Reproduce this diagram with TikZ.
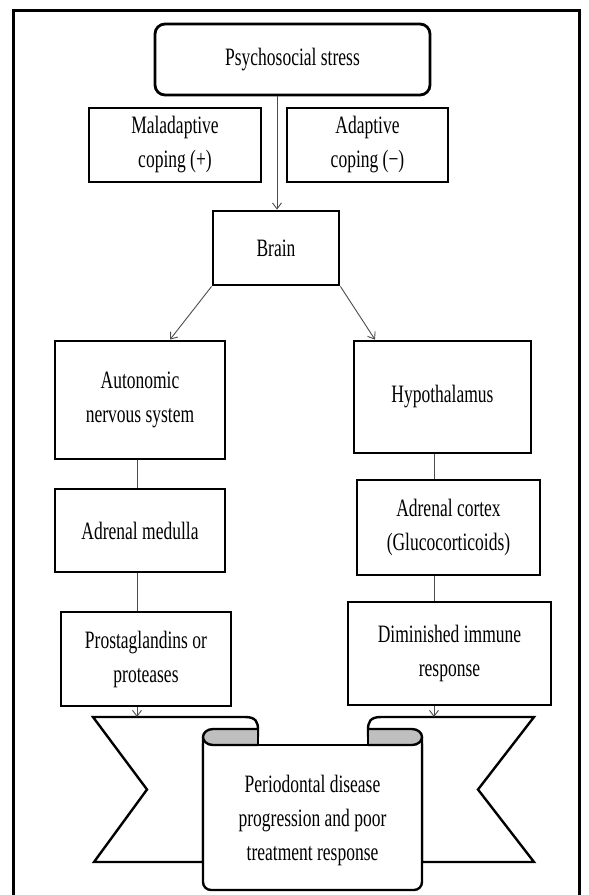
\documentclass[tikz,border=0pt]{standalone}
\usepackage{fontspec}
\setmainfont[FakeStretch=0.7]{Liberation Serif}
\usetikzlibrary{arrows.meta}
\begin{document}
\begin{tikzpicture}[x=1pt,y=-1pt,
  font=\fontsize{25}{34}\selectfont,
  box/.style={draw=black, line width=2.8pt, fill=white, inner sep=0pt, align=center},
  link/.style={draw=black!70, line width=0.9pt},
  arr/.style={link, -{Straight Barb[length=6pt,width=9pt,line width=0.9pt]}},
  ribbonline/.style={draw=black, line width=2.4pt, line join=miter},
  rollfill/.style={fill=black!25, draw=black, line width=2.4pt}]
\useasboundingbox (0,0) rectangle (589,895);
\draw[line width=3pt] (13,10) rectangle (579,905);

% top part
\node[box, rounded corners=10pt, minimum width=275pt, minimum height=71pt] (psy) at (292.5,59.5) {Psychosocial stress};
\node[box, minimum width=172pt, minimum height=74pt] (mal) at (175,145) {Maladaptive\\coping (+)};
\node[box, minimum width=161pt, minimum height=74pt] (ada) at (367.5,145) {Adaptive\\coping (−)};
\node[box, minimum width=126pt, minimum height=74pt] (brain) at (276,248) {Brain};

% left column
\node[box, minimum width=170pt, minimum height=118pt] (ans) at (140,400) {Autonomic\\nervous system};
\node[box, minimum width=170pt, minimum height=83pt] (am) at (140,530.5) {Adrenal medulla};
\node[box, minimum width=170pt, minimum height=94pt] (pro) at (146,659) {Prostaglandins or\\proteases};

% right column
\node[box, minimum width=177pt, minimum height=112pt] (hyp) at (442.5,397) {Hypothalamus};
\node[box, minimum width=183pt, minimum height=95pt] (ac) at (448.5,527.5) {Adrenal cortex\\(Glucocorticoids)};
\node[box, minimum width=203pt, minimum height=103pt] (dim) at (449.5,653.5) {Diminished immune\\response};

% ribbon
\coordinate (rl) at (137,717);
\coordinate (rr) at (434,717);
\draw[ribbonline, fill=white] (258,745) -- (258,730) .. controls (258,722) and (256,717) .. (245,717) -- (93,717) -- (147,789.5) -- (94,862) -- (203,862) -- (203,745) -- cycle;
\draw[ribbonline, fill=white] (368,745) -- (368,730) .. controls (368,722) and (370,717) .. (381,717) -- (534,717) -- (478,789.5) -- (534,862) -- (422,862) -- (422,745) -- cycle;
\fill[white] (203,737) rectangle (422,890);
\draw[ribbonline, rounded corners=8pt] (203,737) -- (203,890) -- (422,890) -- (422,737);
\draw[ribbonline] (258,745) -- (368,745);
\filldraw[rollfill] (258,729) -- (213,729) .. controls (207,729) and (203,733) .. (203,737) .. controls (203,741) and (207,745) .. (213,745) -- (258,745);
\filldraw[rollfill] (368,729) -- (412,729) .. controls (418,729) and (422,733) .. (422,737) .. controls (422,741) and (418,745) .. (412,745) -- (368,745);
\draw[ribbonline] (258,745) -- (258,728);
\draw[ribbonline] (368,745) -- (368,728);
\node[align=center, inner sep=0pt] (pd) at (312.5,820) {Periodontal disease\\progression and poor\\treatment response};

% connectors
\draw[arr] ([xshift=1pt]psy.south -| brain.north) -- ([xshift=1pt]brain.north);
\draw[arr] (brain.south west) -- ([xshift=30pt]ans.north);
\draw[arr] (brain.south east) -- ([xshift=-67.5pt]hyp.north);
\draw[link] ([xshift=-3pt]ans.south) -- ([xshift=-3pt]am.north);
\draw[link] ([xshift=-3pt]am.south) -- ([xshift=-9pt]pro.north);
\draw[link] ([xshift=-8.5pt]hyp.south) -- ([xshift=-14.5pt]ac.north);
\draw[link] ([xshift=-14.5pt]ac.south) -- ([xshift=-15.5pt]dim.north);
\draw[arr] ([xshift=-9pt]pro.south) -- (rl);
\draw[arr] ([xshift=-15.5pt]dim.south) -- (rr);
\end{tikzpicture}
\end{document}
